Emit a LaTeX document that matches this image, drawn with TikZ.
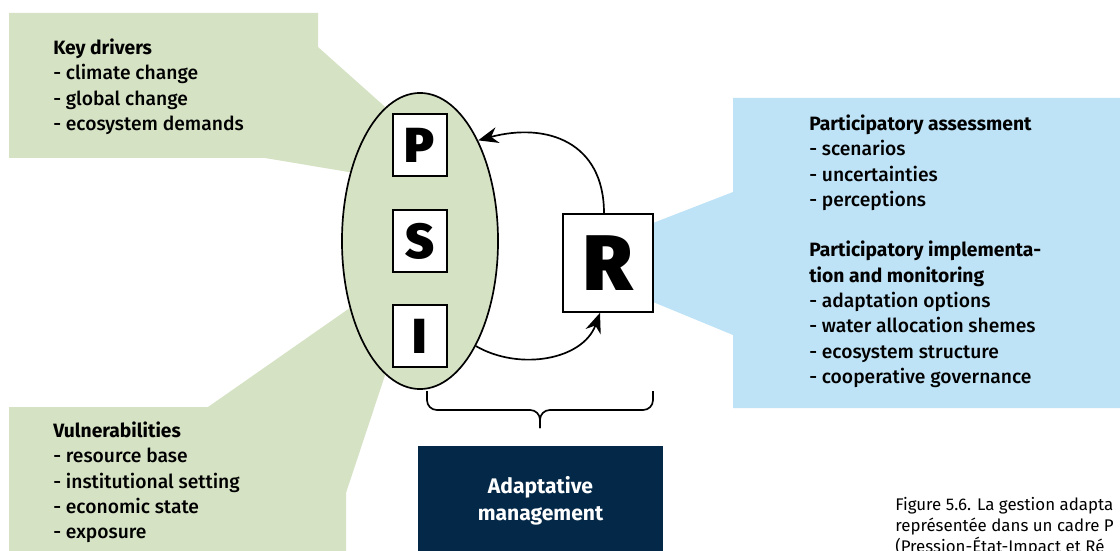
\documentclass[tikz,border=0pt]{standalone}
\usepackage{fontspec}
\setmainfont{Fira Sans}[UprightFont=* Medium, BoldFont=* Bold]
\newfontfamily\heavyfont{Fira Sans Black}
\newfontfamily\captionfont{Fira Sans}
\usetikzlibrary{shapes.geometric,arrows.meta}
\definecolor{leafgreen}{RGB}{213,226,196}
\definecolor{skyblue}{RGB}{191,227,246}
\definecolor{navyblue}{RGB}{4,40,72}

\begin{document}
\begin{tikzpicture}[
  x=0.025cm, y=-0.025cm,
  letter/.style={draw, line width=1.2pt, fill=white, minimum width=1.35cm, minimum height=1.55cm, inner sep=0pt, font=\heavyfont\fontsize{35}{35}\selectfont},
  listtext/.style={anchor=north west, inner sep=0pt, align=left, font=\fontsize{13.7}{18}\selectfont},
  mgmt/.style={fill=navyblue, text=white, align=center, minimum width=6.125cm, minimum height=2.75cm, font=\bfseries\fontsize{15}{19.5}\selectfont},
  arrow/.style={-{Stealth[length=5mm,width=4mm]}, line width=1.2pt},
  bracket/.style={line width=1.2pt, rounded corners=7pt}
]
\clip (0,0) rectangle (1120,551);
% callouts
\fill[leafgreen] (9,13) -- (318,13) -- (318,47) -- (420,138) -- (420,184) -- (265,158) -- (9,158) -- cycle;
\fill[leafgreen] (9,407) -- (208,407) -- (420,259) -- (400,330) -- (346,493) -- (346,560) -- (9,560) -- cycle;
\fill[skyblue] (733,98) -- (1130,98) -- (1130,408) -- (733,408) -- (733,335) -- (653,302) -- (653,223) -- (733,192) -- cycle;

\node[ellipse, draw, line width=1.2pt, fill=leafgreen, minimum width=3.9cm, minimum height=7.4cm] (psi) at (420,241) {};
\node[letter] (P) at (420,145) {P};
\node[letter] (S) at (420,241) {S};
\node[letter] (I) at (420,336) {I};
\node[letter, minimum width=2.25cm, minimum height=2.45cm, font=\heavyfont\fontsize{56}{56}\selectfont] (R) at (608,263) {R};

\draw[arrow] ([xshift=-0.1cm]R.north) to[out=90, in=15, looseness=1.25] (psi.60);
\draw[arrow] (psi.-62) to[out=-30, in=-110] ([xshift=-0.2cm]R.south);

% brace
\draw[bracket] (427,391) -- (427,410) -- (540,410) -- (540,428);
\draw[bracket] (653,391) -- (653,410) -- (540,410) -- (540,428);

\node[mgmt] (adapt) at (540.5,501) {Adaptative\\management};

\node[listtext] (drivers) at (53,38.5) {\textbf{Key drivers}\\- climate change\\- global change\\- ecosystem demands};
\node[listtext] (vuln) at (53,421.5) {\textbf{Vulnerabilities}\\- resource base\\- institutional setting\\- economic state\\- exposure};
\node[listtext] (response) at (809,114.5) {\textbf{Participatory assessment}\\- scenarios\\- uncertainties\\- perceptions\\[18pt]
  \textbf{Participatory implementa-}\\\textbf{tion and monitoring}\\- adaptation options\\- water allocation shemes\\- ecosystem structure\\- cooperative governance};

\node[anchor=north west, inner sep=0pt, align=left, font=\captionfont\fontsize{12}{14.8}\selectfont] (caption) at (895,497) {Figure 5.6. La gestion adapta\\représentée dans un cadre P\\(Pression-État-Impact et Ré};
\end{tikzpicture}
\end{document}
